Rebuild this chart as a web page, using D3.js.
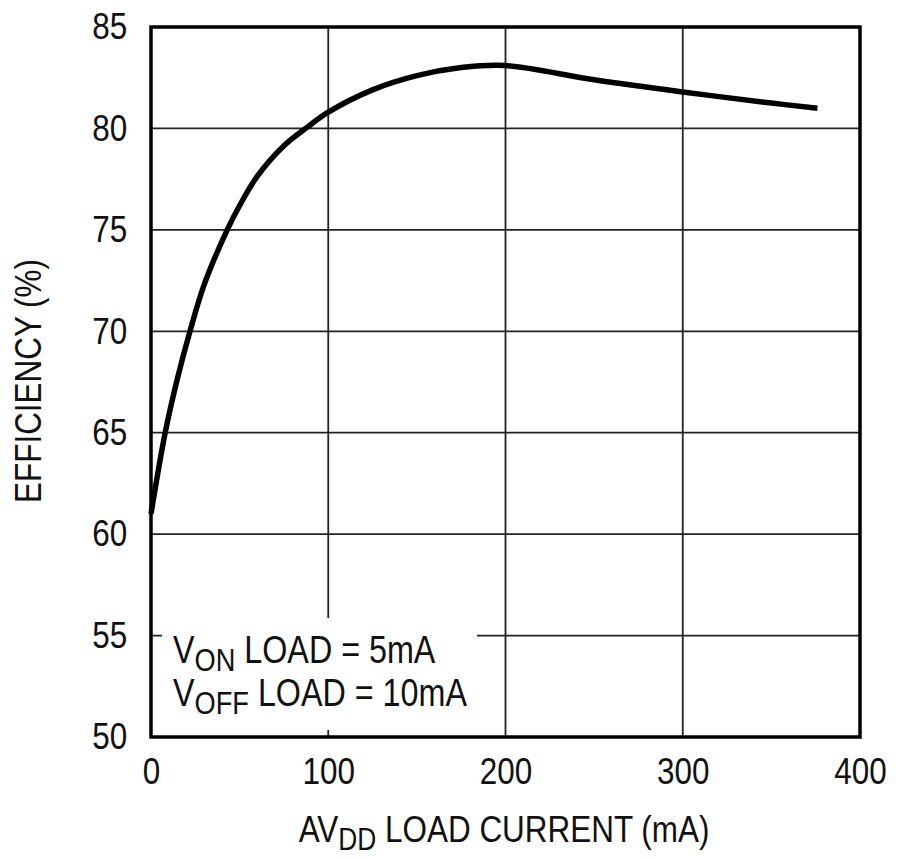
<!DOCTYPE html>
<html>
<head>
<meta charset="utf-8">
<script src="https://cdn.jsdelivr.net/npm/d3@7"></script>
<style>
  body { margin: 0; background: #fff; }
  svg text { font-family: "Liberation Sans Narrow", "Arial Narrow", "Liberation Sans", sans-serif; fill: #111; }
</style>
</head>
<body>
<svg id="chart" width="900" height="859"></svg>
<script>
// load current (mA) vs efficiency (%)
var loadCurrent = [0, 8, 15, 22, 30, 43, 50, 60, 75, 88, 100, 125, 150, 175, 200, 250, 300, 350, 376];
var efficiency  = [61, 65, 67.7, 70, 72.3, 75, 76.2, 77.65, 79.15, 80.05, 80.8, 81.9, 82.6, 83.0, 83.1, 82.4, 81.8, 81.25, 81.0];
var xTicks = [0, 100, 200, 300, 400];
var yTicks = [50, 55, 60, 65, 70, 75, 80, 85];

var squeeze = 0.85;	// fake a narrow font

var svg = d3.select("#chart"),
    margin = {left: 151, top: 27, right: 40, bottom: 122},
    width = +svg.attr("width") - margin.left - margin.right,
    height = +svg.attr("height") - margin.top - margin.bottom,
    g = svg.append("g").attr("transform", "translate(" + margin.left + "," + margin.top + ")");

var x = d3.scaleLinear().domain([0, 400]).range([0, width]);
var y = d3.scaleLinear().domain([50, 85]).range([height, 0]);

// grid
g.append("g")
  .selectAll("line")
  .data(xTicks)
  .enter().append("line")
    .attr("x1", function(d) { return x(d); })
    .attr("x2", function(d) { return x(d); })
    .attr("y1", 0).attr("y2", height)
    .attr("stroke", "#222").attr("stroke-width", 1.8);

g.append("g")
  .selectAll("line")
  .data(yTicks)
  .enter().append("line")
    .attr("y1", function(d) { return y(d); })
    .attr("y2", function(d) { return y(d); })
    .attr("x1", 0).attr("x2", width)
    .attr("stroke", "#222").attr("stroke-width", 1.8);

// legend box blanks the grid behind it
g.append("rect")
  .attr("x", 11).attr("y", 591)
  .attr("width", 315).attr("height", 112)
  .attr("fill", "#fff");

// frame
g.append("rect")
  .attr("width", width).attr("height", height)
  .attr("fill", "none").attr("stroke", "#000").attr("stroke-width", 3.5);

// axes labels
var xAxis = d3.axisBottom(x).tickValues(xTicks).tickSize(0).tickPadding(21);
var yAxis = d3.axisLeft(y).tickValues(yTicks).tickSize(0).tickPadding(28);

g.append("g").attr("transform", "translate(0," + height + ")").call(xAxis)
  .call(function(s) { s.select(".domain").remove(); })
  .selectAll("text")
    .attr("font-size", 37).attr("font-family", null)
    .attr("transform", "scale(" + squeeze + ",1)");

g.append("g").call(yAxis)
  .call(function(s) { s.select(".domain").remove(); })
  .selectAll("text")
    .attr("font-size", 37).attr("font-family", null)
    .attr("transform", "scale(" + squeeze + ",1)");

// curve
var line = d3.line()
  .x(function(d, i) { return x(loadCurrent[i]); })
  .y(function(d) { return y(d); })
  .curve(d3.curveCatmullRom.alpha(0.5));

g.append("path")
  .datum(efficiency)
  .attr("d", line)
  .attr("fill", "none")
  .attr("stroke", "#000")
  .attr("stroke-width", 5.5)
  .attr("stroke-linecap", "butt");

// legend text
var legend = [["V", "ON", " LOAD = 5mA"], ["V", "OFF", " LOAD = 10mA"]];
legend.forEach(function(l, i) {
  var t = g.append("g")
    .attr("transform", "translate(22," + (636 + i * 43) + ") scale(" + squeeze + ",1)")
    .append("text")
    .attr("font-size", 38);
  t.append("tspan").text(l[0]);
  t.append("tspan").attr("font-size", 32).attr("dy", 8).text(l[1]);
  t.append("tspan").attr("dy", -8).text(l[2]);
});

// axis titles
var xt = svg.append("g")
  .attr("transform", "translate(504,842) scale(" + squeeze + ",1)")
  .append("text")
  .attr("text-anchor", "middle")
  .attr("font-size", 37);
xt.append("tspan").text("AV");
xt.append("tspan").attr("font-size", 31).attr("dy", 8).text("DD");
xt.append("tspan").attr("dy", -8).text(" LOAD CURRENT (mA)");

svg.append("text")
  .attr("transform", "translate(41,381) rotate(-90) scale(" + squeeze + ",1)")
  .attr("text-anchor", "middle")
  .attr("font-size", 37)
  .text("EFFICIENCY (%)");
</script>
</body>
</html>
